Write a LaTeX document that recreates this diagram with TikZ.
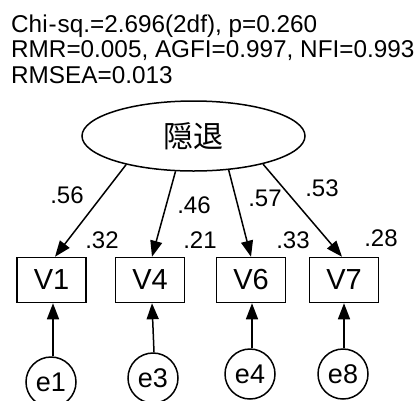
\documentclass[tikz,border=0pt]{standalone}
\usepackage{fontspec}
\setmainfont{Liberation Sans}
\newfontfamily\cjk{Noto Sans CJK JP}
\usetikzlibrary{arrows.meta,shapes.geometric}
\tikzset{
  ln/.style={line width=1.5pt},
  arr/.style={ln,-{Triangle[length=16pt,width=12pt]}},
  obs/.style={draw,ln,rectangle,minimum width=69pt,minimum height=45pt,inner sep=0pt,font=\fontsize{29}{29}\selectfont},
  err/.style={draw,ln,circle,minimum size=50pt,inner sep=0pt,font=\fontsize{27}{27}\selectfont},
  lbl/.style={inner sep=0pt,font=\fontsize{24}{24}\selectfont},
  stat/.style={anchor=base west,inner sep=0pt,font=\fontsize{24.3}{24}\selectfont}
}
\begin{document}
\begin{tikzpicture}[x=1pt,y=-1pt]
\useasboundingbox[fill=white] (0,0) rectangle (414,400);
\node[stat] (s1) at (11,32) {Chi\kern1pt-\kern1pt sq.=2.696(2df), p=0.260};
\node[stat] (s2) at (11,57) {RMR=0.005, AGFI=0.997, NFI=0.993};
\node[stat] (s3) at (11,83) {RMSEA=0.013};
\node[draw,ln,ellipse,minimum width=223pt,minimum height=70pt,inner sep=0pt] (f) at (193.5,136) {\fontsize{30}{30}\selectfont\cjk 隠退};
\node[obs] (v1) at (51.5,280) {V1};
\node[obs] (v4) at (150,280) {V4};
\node[obs] (v6) at (251,280) {V6};
\node[obs] (v7) at (344,280) {V7};
\node[err] (e1) at (51,382) {e1};
\node[err] (e3) at (153,378) {e3};
\node[err] (e4) at (250,374) {e4};
\node[err] (e8) at (343,374) {e8};
\draw[arr] (f.203) -- ([xshift=3.5pt]v1.north);
\draw[arr] (f.243) -- ([xshift=2pt]v4.north);
\draw[arr] (f.316) -- (v6.north);
\draw[arr] (f.338) -- ([xshift=-2pt]v7.north);
\draw[arr] ([xshift=2pt]e1.north) -- ([xshift=1.5pt]v1.south);
\draw[arr] ([xshift=1pt]e3.north) -- ([xshift=2pt]v4.south);
\draw[arr] ([xshift=2pt]e4.north) -- ([xshift=1pt]v6.south);
\draw[arr] ([xshift=1pt]e8.north) -- (v7.south);
\node[lbl] (l1) at (67,195) {.56};
\node[lbl] (l2) at (194,205) {.46};
\node[lbl] (l3) at (265,198) {.57};
\node[lbl] (l4) at (322,188) {.53};
\node[lbl] (r1) at (102,240) {.32};
\node[lbl] (r2) at (200,240) {.21};
\node[lbl] (r3) at (293,240) {.33};
\node[lbl] (r4) at (381,238) {.28};
\end{tikzpicture}
\end{document}
